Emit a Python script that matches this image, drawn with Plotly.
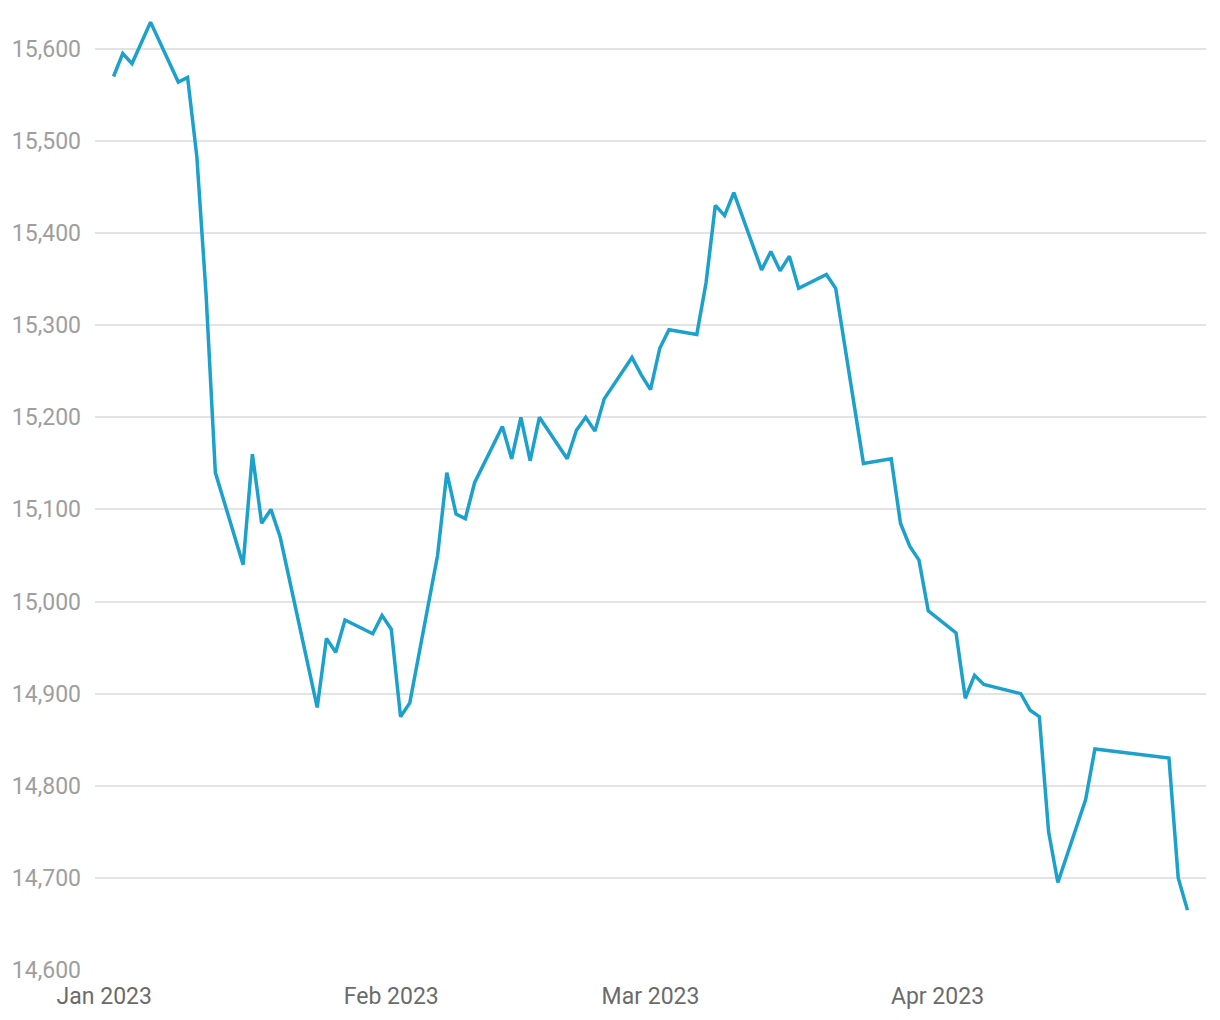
import plotly.graph_objects as go

dates = [
    "2023-01-02", "2023-01-03", "2023-01-04", "2023-01-05", "2023-01-06",
    "2023-01-09", "2023-01-10", "2023-01-11", "2023-01-12", "2023-01-13",
    "2023-01-16", "2023-01-17", "2023-01-18", "2023-01-19", "2023-01-20",
    "2023-01-24", "2023-01-25", "2023-01-26", "2023-01-27",
    "2023-01-30", "2023-01-31", "2023-02-01", "2023-02-02", "2023-02-03",
    "2023-02-06", "2023-02-07", "2023-02-08", "2023-02-09", "2023-02-10",
    "2023-02-13", "2023-02-14", "2023-02-15", "2023-02-16", "2023-02-17",
    "2023-02-20", "2023-02-21", "2023-02-22", "2023-02-23", "2023-02-24",
    "2023-02-27", "2023-02-28", "2023-03-01", "2023-03-02", "2023-03-03",
    "2023-03-06", "2023-03-07", "2023-03-08", "2023-03-09", "2023-03-10",
    "2023-03-13", "2023-03-14", "2023-03-15", "2023-03-16", "2023-03-17",
    "2023-03-20", "2023-03-21", "2023-03-24",
    "2023-03-27", "2023-03-28", "2023-03-29", "2023-03-30", "2023-03-31",
    "2023-04-03", "2023-04-04", "2023-04-05", "2023-04-06",
    "2023-04-10", "2023-04-11", "2023-04-12", "2023-04-13", "2023-04-14",
    "2023-04-17", "2023-04-18", "2023-04-26", "2023-04-27", "2023-04-28",
]

values = [
    15570, 15595, 15584, 15606, 15629,
    15564, 15569, 15483, 15333, 15140,
    15040, 15160, 15085, 15100, 15070,
    14885, 14960, 14945, 14980,
    14965, 14985, 14970, 14875, 14890,
    15050, 15140, 15095, 15090, 15129,
    15190, 15155, 15200, 15153, 15200,
    15155, 15186, 15200, 15185, 15220,
    15265, 15246, 15230, 15275, 15295,
    15290, 15346, 15430, 15419, 15444,
    15360, 15380, 15359, 15375, 15340,
    15355, 15340, 15150,
    15155, 15085, 15060, 15045, 14990,
    14966, 14895, 14920, 14910,
    14900, 14882, 14875, 14750, 14695,
    14785, 14840, 14830, 14700, 14665,
]

x_tick_vals = ["2023-01-01", "2023-02-01", "2023-03-01", "2023-04-01"]
x_tick_text = ["Jan 2023", "Feb 2023", "Mar 2023", "Apr 2023"]
y_tick_vals = [14600, 14700, 14800, 14900, 15000, 15100, 15200, 15300, 15400, 15500, 15600]

fig = go.Figure()
fig.add_trace(go.Scatter(
    x=dates, y=values, mode="lines",
    line=dict(color="#1ba1cc", width=3.5),
    hoverinfo="x+y",
))

fig.update_layout(
    width=1212, height=1012,
    margin=dict(l=87, r=14, t=4, b=50, autoexpand=False),
    paper_bgcolor="white", plot_bgcolor="white",
    showlegend=False,
    font=dict(family="Roboto", size=23),
    xaxis=dict(
        range=["2022-12-31", "2023-04-30"],
        tickvals=x_tick_vals, ticktext=x_tick_text,
        showgrid=False, zeroline=False, showline=False,
        automargin=False, ticklabelstandoff=10,
        ticks="", tickfont=dict(color="#6b6b6b", size=23, family="Roboto"),
    ),
    yaxis=dict(
        range=[14600, 15640],
        tickvals=y_tick_vals, tickformat=",d",
        showgrid=True, gridcolor="#e3e3e3", gridwidth=2,
        zeroline=False, showline=False, ticks="",
        automargin=False, ticklabelstandoff=13,
        tickfont=dict(color="#9e9e9e", size=23, family="Roboto"),
    ),
)

fig.write_html("out.html")
